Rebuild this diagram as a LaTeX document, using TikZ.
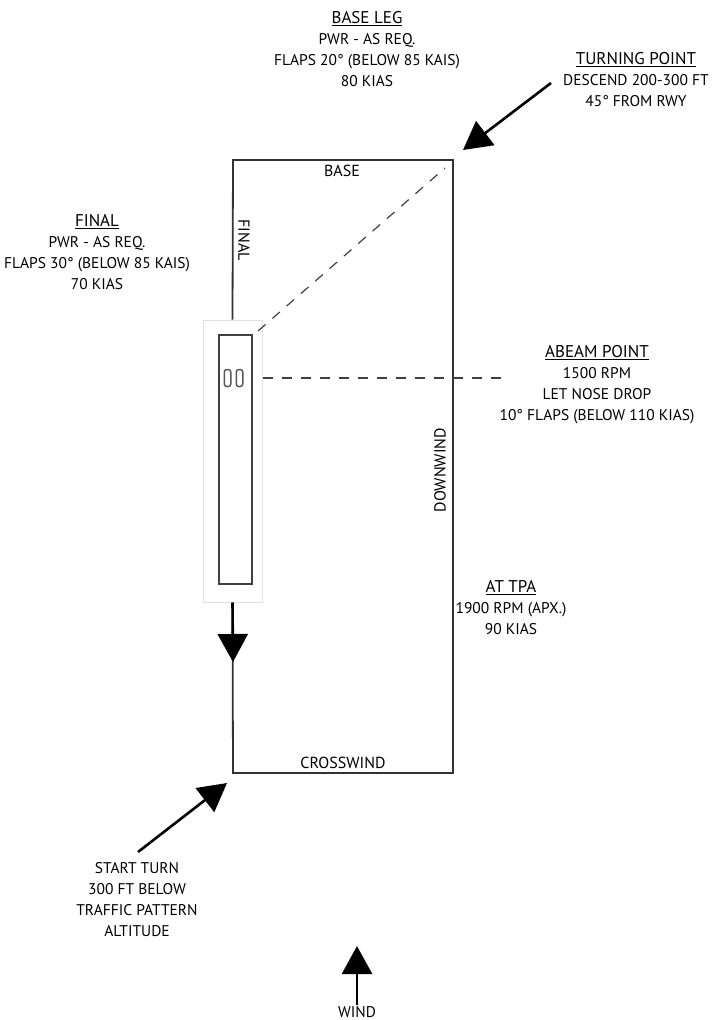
\documentclass[tikz,border=0pt]{standalone}
\usepackage{fontspec}
\setmainfont{PT Sans}
\usetikzlibrary{arrows.meta}
\newcommand{\hd}[1]{{\fontsize{17}{21}\selectfont\underline{#1}}}
\begin{document}
\begin{tikzpicture}[x=1pt,y=-1pt,
  font=\fontsize{15.5}{21}\selectfont,
  % styles
  leg/.style={line width=1.8pt, black!80},
  guide/.style={line width=1.2pt, dash pattern=on 10pt off 9pt, black!75},
  bigarr/.style={-{Triangle[width=30pt,length=28pt]}, line width=2.6pt, black},
  rwybox/.style={rectangle, draw=black!12, line width=1pt, inner sep=0pt},
  rwy/.style={rectangle, draw=black!75, line width=1.6pt, inner sep=0pt},
  digit/.style={rectangle, rounded corners=2.5pt, draw=black!65, line width=1.5pt,
    minimum width=6.5pt, minimum height=17pt, inner sep=0pt},
  note/.style={align=center, inner sep=1pt},
  legname/.style={inner sep=1pt, font=\fontsize{16}{18}\selectfont}
]
\useasboundingbox (0,0) rectangle (724,1020);

%% --- PATTERN RECTANGLE --------------------------------------------
\coordinate (tl) at (233,160);
\coordinate (tr) at (453,160);
\coordinate (br) at (453,773);
\coordinate (bl) at (233,773);

%% --- RUNWAY -------------------------------------------------------
\node[rwybox, minimum width=59pt, minimum height=282pt] (rwyout) at (232.5,461) {};
\node[rwy, minimum width=33pt, minimum height=249pt] (rwyin) at (235.5,459.5) {};
\node[digit] (d1) at (227.5,378) {};
\node[digit] (d2) at (239.5,378) {};

\draw[leg] (rwyout.north) -- (tl) -- (tr) -- (br) -- (bl) -- (rwyout.south);
\draw[bigarr] (rwyout.south) -- (233,662) coordinate (finarr);

% guide lines
\coordinate (abeamend) at (508,378);
\draw[guide] (258,331) -- (445,168);
\draw[guide] (rwyout.east |- d2) -- (abeamend);

%% --- LEG NAMES ----------------------------------------------------
\node[legname] (nbase) at (342,171) {BASE};
\node[legname, rotate=-90] (nfinal) at (244,240) {FINAL};
\node[legname, rotate=90] (ndown) at (440,470) {DOWNWIND};
\node[legname] (ncross) at (343,763) {CROSSWIND};

%% --- NOTES --------------------------------------------------------
\node[note] (baseleg) at (367,49)
  {\hd{BASE LEG}\\PWR - AS REQ.\\FLAPS 20° (BELOW 85 KAIS)\\80 KIAS};
\node[note] (turning) at (636,80)
  {\hd{TURNING POINT}\\DESCEND 200-300 FT\\45° FROM RWY};
\node[note] (finalnote) at (97,252)
  {\hd{FINAL}\\PWR - AS REQ.\\FLAPS 30° (BELOW 85 KAIS)\\70 KIAS};
\node[note] (abeam) at (597,385)
  {\hd{ABEAM POINT}\\1500 RPM\\LET NOSE DROP\\10° FLAPS (BELOW 110 KIAS)};
\node[note] (tpa) at (511,608)
  {\hd{AT TPA}\\1900 RPM (APX.)\\90 KIAS};
\node[note] (startturn) at (137,900)
  {START TURN\\300 FT BELOW\\TRAFFIC PATTERN\\ALTITUDE};
\node[note] (wind) at (357,1012) {WIND};

%% --- POINTER ARROWS -----------------------------------------------
\draw[bigarr] (551,83) coordinate (tpstart) -- (463,150);
\draw[bigarr] (138,852) coordinate (ststart) -- (227,783);
\draw[bigarr] (wind.north) -- (357,946);

\end{tikzpicture}
\end{document}
